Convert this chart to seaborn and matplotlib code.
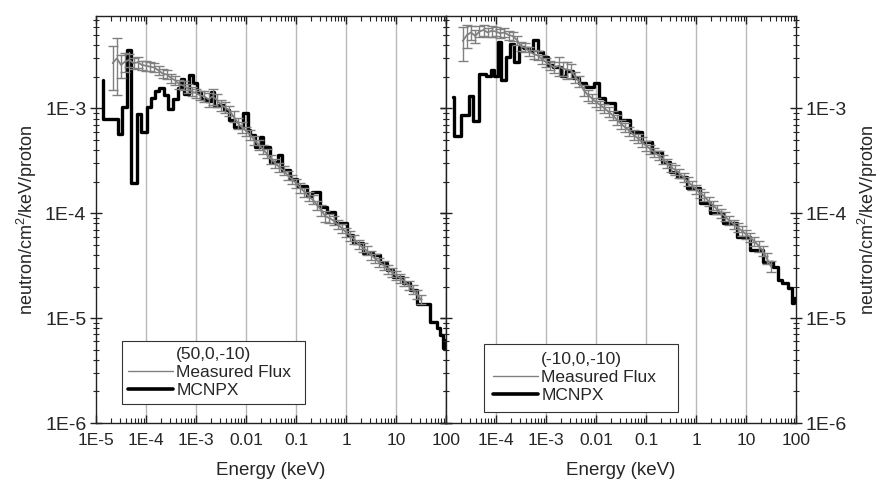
import seaborn as sns
import matplotlib.pyplot as plt
from matplotlib.lines import Line2D
from matplotlib.ticker import LogLocator, FixedLocator, NullFormatter

# ---- MCNPX step spectra: lower bin edge (keV) and flux ----
left_mc_e = [1.36e-5, 1.37e-5, 2.72e-5, 3.31e-5, 4.11e-5, 5.0e-5, 6.5e-5, 7.9e-5, 1.03e-4, 1.26e-4,
             1.53e-4, 1.85e-4, 2.32e-4, 2.72e-4, 3.52e-4, 4.31e-4, 5.0e-4, 5.83e-4, 7.14e-4, 8.6e-4,
             1.03e-3, 1.26e-3, 1.58e-3, 2.0e-3, 2.32e-3, 2.92e-3, 3.68e-3, 4.6e-3, 5.8e-3, 8.6e-3,
             1.08e-2, 1.2e-2, 1.5e-2, 1.9e-2, 2.2e-2, 3.0e-2, 4.4e-2, 5.2e-2, 7.6e-2, 0.105,
             0.166, 0.21, 0.30, 0.42, 0.60, 1.05, 1.38, 2.19, 3.47, 4.8,
             6.6, 8.7, 13.8, 19.0, 26.0, 48.0, 66.0, 76.0, 87.0, 95.0, 100.0]
left_mc_f = [1.86e-3, 8.0e-4, 5.7e-4, 1.02e-3, 3.6e-3, 1.95e-4, 8.8e-4, 6.0e-4, 1.02e-3, 1.27e-3,
             1.47e-3, 1.58e-3, 1.34e-3, 9.8e-4, 1.22e-3, 1.55e-3, 1.89e-3, 1.37e-3, 2.07e-3, 1.75e-3,
             1.44e-3, 1.22e-3, 1.18e-3, 1.44e-3, 1.05e-3, 1.07e-3, 9.6e-4, 7.7e-4, 6.6e-4, 9.0e-4,
             6.2e-4, 5.6e-4, 4.3e-4, 5.3e-4, 4.3e-4, 3.1e-4, 3.6e-4, 2.6e-4, 2.1e-4, 1.8e-4,
             1.45e-4, 1.6e-4, 1.15e-4, 1.03e-4, 8.1e-5, 6.2e-5, 5.2e-5, 4.2e-5, 4.0e-5, 3.37e-5,
             2.9e-5, 2.48e-5, 2.17e-5, 1.86e-5, 1.37e-5, 9.2e-6, 8.1e-6, 6.9e-6, 5.2e-6, 6.2e-6, 6.2e-6]

right_mc_e = [1.40e-5, 1.41e-5, 2.0e-5, 2.92e-5, 3.52e-5, 4.63e-5, 6.3e-5, 7.9e-5, 9.2e-5, 1.08e-4,
              1.26e-4, 1.58e-4, 1.9e-4, 2.32e-4, 2.84e-4, 3.68e-4, 4.63e-4, 5.57e-4, 6.8e-4, 8.6e-4,
              1.08e-3, 1.36e-3, 2.0e-3, 2.5e-3, 3.42e-3, 4.63e-3, 6.3e-3, 9.2e-3, 1.13e-2, 1.5e-2,
              2.4e-2, 3.0e-2, 4.8e-2, 8.2e-2, 0.13, 0.206, 0.30, 0.41, 0.65, 1.2,
              1.9, 3.5, 6.5, 12.0, 22.0, 35.0, 44.0, 52.0, 70.0, 82.0, 91.0, 100.0]
right_mc_f = [1.29e-3, 5.5e-4, 8.6e-4, 1.32e-3, 7.6e-4, 2.15e-3, 2.04e-3, 2.32e-3, 2.04e-3, 4.25e-3,
              1.86e-3, 3.1e-3, 4.07e-3, 2.78e-3, 3.86e-3, 3.73e-3, 3.51e-3, 4.47e-3, 3.46e-3, 3.1e-3,
              2.62e-3, 2.49e-3, 2.03e-3, 2.26e-3, 1.93e-3, 1.73e-3, 1.61e-3, 1.73e-3, 1.25e-3, 1.12e-3,
              9.3e-4, 7.7e-4, 6.0e-4, 4.8e-4, 3.86e-4, 3.1e-4, 2.49e-4, 2.23e-4, 1.73e-4, 1.25e-4,
              1.0e-4, 8.0e-5, 6.0e-5, 4.47e-5, 3.46e-5, 3.1e-5, 2.32e-5, 2.15e-5, 1.93e-5, 1.39e-5,
              1.55e-5, 1.55e-5]

# ---- measured flux (same detector energy bins for both positions) ----
meas_e = [2.15e-5, 2.61e-5, 3.16e-5, 3.83e-5, 4.64e-5, 5.62e-5, 6.81e-5, 8.25e-5,
          1.0e-4, 1.21e-4, 1.47e-4, 1.78e-4, 2.15e-4, 2.61e-4, 3.16e-4, 3.83e-4, 4.64e-4, 5.62e-4, 6.81e-4, 8.25e-4,
          1.0e-3, 1.21e-3, 1.47e-3, 1.78e-3, 2.15e-3, 2.61e-3, 3.16e-3, 3.83e-3, 4.64e-3, 5.62e-3, 6.81e-3, 8.25e-3,
          1.0e-2, 1.21e-2, 1.47e-2, 1.78e-2, 2.15e-2, 2.61e-2, 3.16e-2, 3.83e-2, 4.64e-2, 5.62e-2, 6.81e-2, 8.25e-2,
          0.1, 0.121, 0.147, 0.178, 0.215, 0.261, 0.316, 0.383, 0.464, 0.562, 0.681, 0.825,
          1.0, 1.21, 1.47, 1.78, 2.15, 2.61, 3.16, 3.83, 4.64, 5.62, 6.81, 8.25,
          10.0, 12.1, 14.7, 17.8, 21.5, 26.1, 31.6]
left_meas_f = [2.7e-3, 3.0e-3, 2.6e-3, 2.8e-3, 2.9e-3, 2.7e-3, 2.75e-3, 2.6e-3,
               2.55e-3, 2.5e-3, 2.45e-3, 2.3e-3, 2.15e-3, 2.1e-3, 1.95e-3, 1.85e-3, 1.7e-3, 1.65e-3, 1.55e-3, 1.45e-3,
               1.4e-3, 1.33e-3, 1.3e-3, 1.22e-3, 1.3e-3, 1.2e-3, 1.08e-3, 1.02e-3, 9.5e-4, 8.4e-4, 7.3e-4, 6.6e-4,
               6.1e-4, 5.6e-4, 5.0e-4, 4.5e-4, 4.1e-4, 3.7e-4, 3.3e-4, 3.0e-4, 2.75e-4, 2.55e-4, 2.3e-4, 2.1e-4,
               1.95e-4, 1.75e-4, 1.6e-4, 1.45e-4, 1.35e-4, 1.2e-4, 1.08e-4, 9.4e-5, 9.0e-5, 8.5e-5, 7.8e-5, 7.2e-5,
               6.6e-5, 6.1e-5, 5.6e-5, 5.1e-5, 4.7e-5, 4.4e-5, 4.0e-5, 3.7e-5, 3.4e-5, 3.2e-5, 2.95e-5, 2.75e-5,
               2.55e-5, 2.4e-5, 2.25e-5, 2.05e-5, 1.9e-5, 1.7e-5, 1.5e-5]
left_meas_rel = [0.45, 0.55, 0.25, 0.2, 0.15, 0.12, 0.12, 0.1,
                 0.1, 0.1, 0.1, 0.1, 0.1, 0.1, 0.1, 0.1, 0.1, 0.1, 0.1, 0.1,
                 0.1, 0.1, 0.12, 0.15, 0.18, 0.15, 0.12, 0.12, 0.1, 0.12, 0.12, 0.12,
                 0.1, 0.1, 0.1, 0.1, 0.1, 0.1, 0.1, 0.1, 0.1, 0.1, 0.1, 0.1,
                 0.1, 0.1, 0.1, 0.1, 0.1, 0.1, 0.12, 0.12, 0.1, 0.1, 0.1, 0.1,
                 0.1, 0.1, 0.1, 0.1, 0.1, 0.1, 0.1, 0.1, 0.1, 0.1, 0.1, 0.1,
                 0.1, 0.1, 0.1, 0.1, 0.1, 0.1, 0.1]
right_meas_f = [4.4e-3, 5.0e-3, 5.3e-3, 4.9e-3, 5.4e-3, 5.6e-3, 5.3e-3, 5.5e-3,
                5.4e-3, 5.2e-3, 5.3e-3, 5.0e-3, 4.9e-3, 4.5e-3, 3.9e-3, 3.8e-3, 3.5e-3, 3.3e-3, 3.2e-3, 2.95e-3,
                2.75e-3, 2.6e-3, 2.45e-3, 2.55e-3, 2.4e-3, 2.35e-3, 2.3e-3, 2.0e-3, 1.8e-3, 1.5e-3, 1.35e-3, 1.25e-3,
                1.15e-3, 1.08e-3, 1.0e-3, 9.3e-4, 8.6e-4, 7.8e-4, 7.1e-4, 6.6e-4, 6.1e-4, 5.6e-4, 5.2e-4, 4.8e-4,
                4.4e-4, 4.1e-4, 3.8e-4, 3.55e-4, 3.3e-4, 3.0e-4, 2.75e-4, 2.6e-4, 2.4e-4, 2.2e-4, 2.0e-4, 1.85e-4,
                1.7e-4, 1.55e-4, 1.45e-4, 1.3e-4, 1.2e-4, 1.1e-4, 1.0e-4, 9.3e-5, 8.5e-5, 7.9e-5, 7.3e-5, 6.8e-5,
                6.3e-5, 5.9e-5, 5.4e-5, 4.9e-5, 4.4e-5, 3.7e-5, 3.1e-5]
right_meas_rel = [0.35, 0.25, 0.15, 0.15, 0.12, 0.12, 0.1, 0.12,
                  0.1, 0.1, 0.1, 0.1, 0.1, 0.1, 0.1, 0.1, 0.1, 0.1, 0.1, 0.1,
                  0.1, 0.1, 0.12, 0.2, 0.15, 0.18, 0.15, 0.12, 0.12, 0.12, 0.12, 0.1,
                  0.1, 0.1, 0.1, 0.1, 0.1, 0.1, 0.1, 0.1, 0.1, 0.1, 0.1, 0.1,
                  0.1, 0.1, 0.1, 0.1, 0.1, 0.1, 0.1, 0.1, 0.1, 0.1, 0.1, 0.1,
                  0.1, 0.1, 0.1, 0.1, 0.1, 0.1, 0.1, 0.1, 0.1, 0.1, 0.1, 0.1,
                  0.1, 0.1, 0.1, 0.12, 0.12, 0.12, 0.12]

positions = ["(50,0,-10)", "(-10,0,-10)"]
x_ticks = [1e-5, 1e-4, 1e-3, 1e-2, 1e-1, 1, 10, 100]
x_labels = ["1E-5", "1E-4", "1E-3", "0.01", "0.1", "1", "10", "100"]
y_ticks = [1e-6, 1e-5, 1e-4, 1e-3]
y_labels = ["1E-6", "1E-5", "1E-4", "1E-3"]
ylabel = "neutron/cm$^2$/keV/proton"

sns.set_theme(style="ticks")
plt.rcParams['font.family'] = ['Liberation Sans', 'DejaVu Sans']
plt.rcParams['mathtext.fontset'] = 'custom'
plt.rcParams['mathtext.rm'] = 'Liberation Sans'

GRAY = '#808080'

fig = plt.figure(figsize=(8.85, 4.9), dpi=100)
ax1 = fig.add_axes([0.1085, 0.1367, 0.3955, 0.8306])
ax2 = fig.add_axes([0.504, 0.1367, 0.3955, 0.8306], sharey=ax1)


def panel(ax, mc_e, mc_f, me_f, me_rel, title, leg_box, bpad):
    ax.set_xscale('log')
    ax.set_yscale('log')
    ax.set_xlim(1e-5, 100)
    ax.set_ylim(1e-6, 7.6e-3)
    for g in x_ticks[1:-1]:
        ax.axvline(g, color='#b8b8b8', lw=1, zorder=0)
    sns.lineplot(x=mc_e, y=mc_f, ax=ax, color='black', lw=2.4, drawstyle='steps-post',
                 sort=False, estimator=None, zorder=3)
    err = [f * r for f, r in zip(me_f, me_rel)]
    ax.errorbar(meas_e, me_f, yerr=err, fmt='none', ecolor=GRAY, elinewidth=1,
                capsize=3.5, capthick=1, zorder=4)
    sns.lineplot(x=meas_e, y=me_f, ax=ax, color=GRAY, lw=1.3, sort=False,
                 estimator=None, zorder=5)
    ax.xaxis.set_major_locator(FixedLocator(x_ticks))
    ax.xaxis.set_minor_locator(LogLocator(base=10, subs=range(2, 10), numticks=20))
    ax.xaxis.set_minor_formatter(NullFormatter())
    ax.yaxis.set_minor_locator(LogLocator(base=10, subs=range(2, 10), numticks=20))
    ax.yaxis.set_minor_formatter(NullFormatter())
    ax.tick_params(axis='x', which='both', direction='in', top=True, bottom=True,
                   pad=7, color='#222222')
    ax.tick_params(axis='x', which='major', length=6, width=1)
    ax.tick_params(axis='x', which='minor', length=3.5, width=0.8)
    ax.tick_params(axis='y', which='both', direction='inout', left=True, right=True,
                   labelsize=14, pad=3, color='#222222')
    ax.tick_params(axis='y', which='major', length=8, width=1)
    ax.tick_params(axis='y', which='minor', length=5, width=0.8)
    for s in ax.spines.values():
        s.set_linewidth(1)
        s.set_color('#222222')
    ax.set_xlabel("Energy (keV)", fontsize=13.5, labelpad=10)
    handles = [Line2D([], [], color=GRAY, lw=1), Line2D([], [], color='black', lw=2.6)]
    leg = ax.legend(handles, ["Measured Flux", "MCNPX"], title=title, loc='lower left',
                    bbox_to_anchor=leg_box, mode='expand', borderaxespad=0,
                    fancybox=False, framealpha=1, edgecolor='#333333', fontsize=12.5,
                    title_fontsize=12.5, handlelength=2.6, handletextpad=0.2,
                    labelspacing=0.15, borderpad=bpad)
    leg.get_frame().set_linewidth(0.8)


panel(ax1, left_mc_e, left_mc_f, left_meas_f, left_meas_rel, positions[0],
      (0.073, 0.047, 0.524, 0.16), 0.35)
panel(ax2, right_mc_e, right_mc_f, right_meas_f, right_meas_rel, positions[1],
      (0.109, 0.028, 0.554, 0.17), 0.5)

ax1.set_xticklabels(x_labels, fontsize=12.5)
ax2.set_xticklabels([""] + x_labels[1:], fontsize=12.5)
ax1.yaxis.set_major_locator(FixedLocator(y_ticks))
ax1.set_yticklabels(y_labels)
ax1.tick_params(axis='y', labelleft=True, labelright=False)
ax2.tick_params(axis='y', labelleft=False, labelright=True)
ax1.set_ylabel(ylabel, fontsize=13, labelpad=4)
ax2.yaxis.set_label_position('right')
ax2.set_ylabel(ylabel, fontsize=13, labelpad=6)

fig.savefig("out.png", dpi=100)
